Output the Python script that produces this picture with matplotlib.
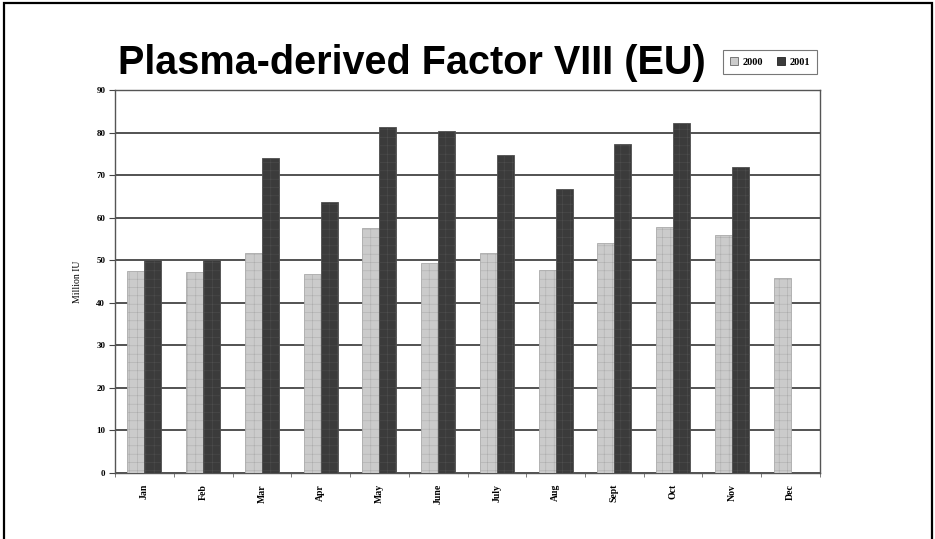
import matplotlib
matplotlib.use("Agg")
import matplotlib.pyplot as plt
import numpy as np
from matplotlib.patches import Rectangle

months = ["Jan", "Feb", "Mar", "Apr", "May", "June", "July", "Aug", "Sept", "Oct", "Nov", "Dec"]
v2000 = [47.4, 47.3, 51.8, 46.8, 57.5, 49.3, 51.8, 47.8, 54.1, 57.8, 56.0, 45.8]
v2001 = [50.1, 50.1, 74.0, 63.6, 81.2, 80.4, 74.6, 66.7, 77.4, 82.2, 72.0, np.nan]
series_names = ["2000", "2001"]
yticks = [0, 10, 20, 30, 40, 50, 60, 70, 80, 90]

plt.rcParams["hatch.linewidth"] = 0.35

fig = plt.figure(figsize=(9.35, 5.39), dpi=100)
fig.patch.set_facecolor("white")

# outer frame
fig.add_artist(Rectangle((0.004, -0.01), 0.993, 1.004, transform=fig.transFigure,
                         fill=False, edgecolor="black", linewidth=1.6))

ax = fig.add_axes([0.123, 0.1225, 0.754, 0.7106])
x = np.arange(len(months))
w = 0.29
c2000 = "#cbcbcb"
c2001 = "#3b3b3b"
ax.bar(x - w / 2, v2000, width=w, color=c2000, edgecolor="#aaaaaa", linewidth=0.6,
       hatch="++", zorder=3)
ax.bar(x + w / 2, v2001, width=w, color=c2001, edgecolor="#505050", linewidth=0.6,
       hatch="++", zorder=3)

ax.set_xlim(-0.5, len(months) - 0.5)
ax.set_ylim(0, 90)
ax.set_yticks(yticks)
ax.set_yticklabels([str(t) for t in yticks], family="Liberation Serif", fontsize=6.5,
                   fontweight="bold")
ax.yaxis.grid(True, color="#444444", linewidth=1.3, zorder=0)
ax.set_xticks(x)
ax.set_xticklabels(months, rotation=90, family="Liberation Serif", fontsize=7,
                   fontweight="bold")
ax.set_xticks(np.arange(-0.5, len(months)), minor=True)
ax.tick_params(axis="x", which="major", length=0, pad=8)
ax.tick_params(axis="x", which="minor", length=3, color="#666666")
ax.tick_params(axis="y", length=4, color="#444444", pad=3)
for s in ["left", "bottom", "right", "top"]:
    ax.spines[s].set_color("#555555")
    ax.spines[s].set_linewidth(1.0)
ax.set_ylabel("Million IU", family="Liberation Serif", fontsize=7, labelpad=10)

fig.text(0.441, 0.883, "Plasma-derived Factor VIII (EU)", family="Liberation Sans",
         fontweight="bold", fontsize=28.5, ha="center", va="center")

# legend
leg = ax.legend(
    handles=[Rectangle((0, 0), 1, 1, facecolor=c2000, edgecolor="#666666", linewidth=0.6),
             Rectangle((0, 0), 1, 1, facecolor=c2001, edgecolor="#222222", linewidth=0.6)],
    labels=series_names, ncol=2, loc="center", bbox_to_anchor=(0.8235, 0.885),
    bbox_transform=fig.transFigure, prop={"family": "Liberation Serif", "size": 7.5,
                                           "weight": "bold"},
    frameon=True, fancybox=False, edgecolor="#555555", handlelength=0.8, handleheight=0.8,
    handletextpad=0.4, columnspacing=1.3, borderpad=0.7)
leg.get_frame().set_linewidth(0.8)

fig.savefig("out.png", dpi=100)
